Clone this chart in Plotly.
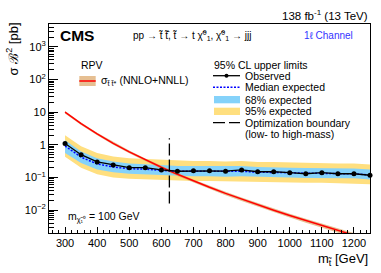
import plotly.graph_objects as go

# ---------------- data ----------------
mass = [300, 350, 400, 450, 500, 550, 600, 650, 700, 750, 800, 850, 900, 950,
        1000, 1050, 1100, 1150, 1200, 1250]
observed = [1.10, 0.50, 0.30, 0.24, 0.20, 0.20, 0.17, 0.155, 0.16, 0.16, 0.156,
            0.17, 0.15, 0.15, 0.14, 0.13, 0.14, 0.13, 0.13, 0.117]
expected = [0.92, 0.42, 0.26, 0.21, 0.185, 0.18, 0.165, 0.155, 0.155, 0.155, 0.15,
            0.155, 0.145, 0.145, 0.14, 0.135, 0.135, 0.13, 0.13, 0.12]
exp68_hi = [1.37, 0.63, 0.39, 0.31, 0.27, 0.26, 0.24, 0.225, 0.225, 0.225, 0.22,
            0.225, 0.21, 0.21, 0.20, 0.195, 0.195, 0.19, 0.19, 0.175]
exp68_lo = [0.56, 0.28, 0.175, 0.145, 0.13, 0.125, 0.115, 0.11, 0.11, 0.11, 0.105,
            0.11, 0.105, 0.105, 0.10, 0.097, 0.097, 0.094, 0.094, 0.087]
exp95_hi = [1.95, 0.90, 0.56, 0.44, 0.39, 0.37, 0.34, 0.32, 0.32, 0.32, 0.31,
            0.32, 0.30, 0.30, 0.29, 0.28, 0.28, 0.27, 0.27, 0.25]
exp95_lo = [0.43, 0.20, 0.125, 0.10, 0.092, 0.088, 0.082, 0.078, 0.078, 0.078, 0.076,
            0.078, 0.074, 0.074, 0.072, 0.069, 0.069, 0.067, 0.067, 0.062]
theory = [10.0, 4.43, 2.15, 1.11, 0.609, 0.347, 0.205, 0.125, 0.0783, 0.0500,
          0.0326, 0.0216, 0.0145, 0.00991, 0.00683, 0.00476, 0.00335, 0.00238,
          0.00170, 0.00122]
theory_hi = [10.9, 4.84, 2.35, 1.22, 0.67, 0.383, 0.227, 0.139, 0.0872, 0.0558,
             0.0365, 0.0243, 0.0164, 0.0112, 0.00776, 0.00543, 0.00384, 0.00274,
             0.00197, 0.00142]
theory_lo = [9.1, 4.02, 1.95, 1.00, 0.55, 0.311, 0.183, 0.111, 0.0694, 0.0442,
             0.0287, 0.0189, 0.0126, 0.0086, 0.0059, 0.00409, 0.00286, 0.00202,
             0.00143, 0.00102]
boundary_mass = [625, 625]
boundary_y = [0.016, 1.6]

x_ticks = [300, 400, 500, 600, 700, 800, 900, 1000, 1100, 1200]
y_ticks = [0.01, 0.1, 1, 10, 100, 1000]
y_ticklabels = ["10<sup>\u22122</sup>", "10<sup>\u22121</sup>", "1", "10",
                "10<sup>2</sup>", "10<sup>3</sup>"]

# ---------------- styling ----------------
FONT = "Liberation Sans, Arial, sans-serif"
YELLOW = "#FFDF7F"
BLUE_BAND = "#85D2FA"
THEORY_BAND = "rgba(222,170,110,0.75)"
W, H = 381, 273
X0, X1, Y0, Y1 = 49, 370, 24, 233


def px(x):
    return (x - X0) / (X1 - X0)


def py(y):
    return (Y1 - y) / (Y1 - Y0)


fig = go.Figure()

# 95% band
fig.add_trace(go.Scatter(x=mass, y=exp95_lo, mode="lines", line=dict(width=0),
                         showlegend=False, hoverinfo="skip"))
fig.add_trace(go.Scatter(x=mass, y=exp95_hi, mode="lines", line=dict(width=0),
                         fill="tonexty", fillcolor=YELLOW, showlegend=False))
# 68% band
fig.add_trace(go.Scatter(x=mass, y=exp68_lo, mode="lines", line=dict(width=0),
                         showlegend=False, hoverinfo="skip"))
fig.add_trace(go.Scatter(x=mass, y=exp68_hi, mode="lines", line=dict(width=0),
                         fill="tonexty", fillcolor=BLUE_BAND, showlegend=False))
# theory band
fig.add_trace(go.Scatter(x=mass, y=theory_lo, mode="lines", line=dict(width=0),
                         showlegend=False, hoverinfo="skip"))
fig.add_trace(go.Scatter(x=mass, y=theory_hi, mode="lines", line=dict(width=0),
                         fill="tonexty", fillcolor=THEORY_BAND, showlegend=False))
fig.add_trace(go.Scatter(x=mass, y=theory, mode="lines",
                         line=dict(color="#ff0000", width=1.5), showlegend=False))
# median expected
fig.add_trace(go.Scatter(x=mass, y=expected, mode="lines",
                         line=dict(color="#0000ff", width=1.5, dash="2px,1.5px"),
                         showlegend=False))
# observed
fig.add_trace(go.Scatter(x=mass, y=observed, mode="lines+markers",
                         line=dict(color="black", width=1.3),
                         marker=dict(color="black", size=5), showlegend=False,
                         cliponaxis=False))
# boundary
fig.add_trace(go.Scatter(x=boundary_mass, y=boundary_y, mode="lines",
                         line=dict(color="black", width=1.3, dash="12px,4px"),
                         showlegend=False))

shapes = []
ann = []


def text(x, y, s, size=10.5, anchor="left", color="black", **kw):
    ann.append(dict(x=px(x), y=py(y), xref="paper", yref="paper", text=s,
                    showarrow=False, xanchor=anchor, yanchor="middle",
                    font=dict(family=FONT, size=size, color=color), **kw))


def line(x0, y0, x1, y1, color="black", width=1.3, dash="solid"):
    shapes.append(dict(type="line", xref="paper", yref="paper",
                       x0=px(x0), y0=py(y0), x1=px(x1), y1=py(y1),
                       line=dict(color=color, width=width, dash=dash)))


def rect(x0, y0, x1, y1, color):
    shapes.append(dict(type="rect", xref="paper", yref="paper",
                       x0=px(x0), y0=py(y0), x1=px(x1), y1=py(y1),
                       line=dict(width=0), fillcolor=color))


# header texts
text(370, 14.5, "138 fb<sup>-1</sup> (13 TeV)", size=11.5, anchor="right")
text(58, 35, "<b>CMS</b>", size=15.5)
text(131, 36, "pp \u2192 t\u0303 t\u0303\u0304, t\u0303 \u2192 t \u03c7\u0303<sup>0</sup><sub>1</sub>, "
     "\u03c7\u0303<sup>0</sup><sub>1</sub> \u2192 jjj", size=10)
text(302, 35, "1\u2113 Channel", size=10, color="#3333ff")

# left legend
text(79, 64.5, "RPV", size=10.5)
rect(79.3, 76, 95.7, 86, THEORY_BAND)
line(79.3, 81, 95.7, 81, color="#ff0000", width=1.5)
text(99, 81, "\u03c3<sub>t\u0303 t\u0303*</sub> (NNLO+NNLL)", size=10.5)

# right legend
text(212, 64.5, "95% CL upper limits", size=10.5)
line(213, 75.7, 240, 75.7, width=1.3)
shapes.append(dict(type="circle", xref="paper", yref="paper",
                   x0=px(224.5), x1=px(228.5), y0=py(73.7), y1=py(77.7),
                   fillcolor="black", line=dict(width=0)))
text(243, 75.7, "Observed")
line(213, 87.3, 240, 87.3, color="#0000ff", width=1.5, dash="2px,1.5px")
text(243, 87.3, "Median expected")
rect(214, 96, 240, 103.3, BLUE_BAND)
text(243, 99.5, "68% expected")
rect(214, 107.7, 240, 115, YELLOW)
text(243, 111.3, "95% expected")
line(213, 122.7, 240, 122.7, width=1.3, dash="12px,4px")
text(243, 122.7, "Optimization boundary")
text(243, 134, "(low- to high-mass)")

# mass annotation
text(66, 216.5, "m<sub>\u03c7\u0303\u2081\u2070</sub> = 100 GeV", size=10.5)

# axis titles
text(370, 259, "m<sub>t\u0303</sub> [GeV]", size=13, anchor="right")
ann.append(dict(x=px(12), y=py(21), xref="paper", yref="paper",
                text="\u03c3 \u212c<sup>2</sup> [pb]", showarrow=False,
                textangle=-90, xanchor="center", yanchor="top",
                font=dict(family=FONT, size=13, color="black")))

minor_y = []
for e in [0.001, 0.01, 0.1, 1, 10, 100, 1000]:
    for k in range(2, 10):
        minor_y.append(e * k)

fig.update_layout(
    template="none",
    width=W, height=H, autosize=False,
    margin=dict(l=X0, r=W - X1, t=Y0, b=H - Y1, pad=0),
    paper_bgcolor="white", plot_bgcolor="white",
    font=dict(family=FONT, size=11, color="black"),
    showlegend=False,
    shapes=shapes, annotations=ann,
    xaxis=dict(range=[250, 1250], tickmode="array", tickvals=x_ticks,
               ticks="inside", ticklen=6, tickwidth=1, tickcolor="black",
               showline=True, linecolor="black", linewidth=1, mirror=True,
               showgrid=False, zeroline=False, tickfont=dict(size=11),
               automargin=False,
               minor=dict(tickmode="linear", tick0=0, dtick=20, ticks="inside",
                          ticklen=3, tickcolor="black", showgrid=False)),
    yaxis=dict(type="log", range=[-2.7, 3.7], tickmode="array",
               tickvals=y_ticks, ticktext=y_ticklabels,
               ticks="inside", ticklen=9, tickwidth=1, tickcolor="black",
               showline=True, linecolor="black", linewidth=1, mirror=True,
               showgrid=False, zeroline=False, tickfont=dict(size=11),
               automargin=False,
               minor=dict(tickmode="array", tickvals=minor_y, ticks="inside",
                          ticklen=4.5, tickcolor="black", showgrid=False)),
)

fig.write_html("out.html",
               config={"displayModeBar": False},
               post_script="document.body.style.margin='0';"
                           "document.body.style.overflow='hidden';")
